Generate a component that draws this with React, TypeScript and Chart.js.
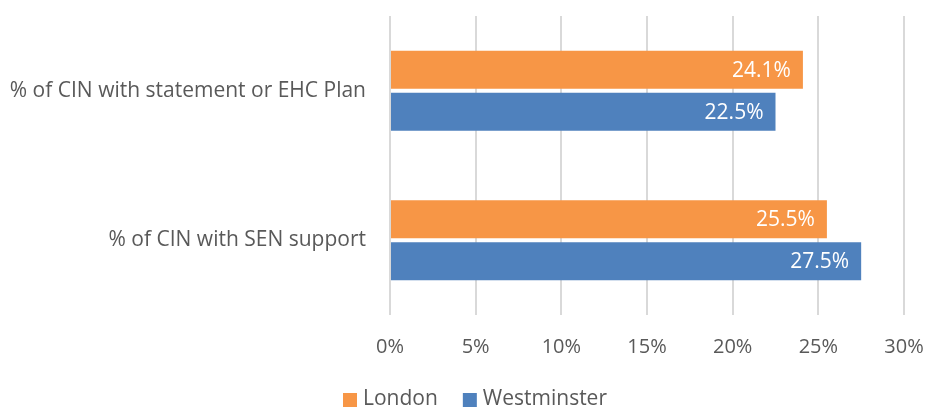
import React, { useEffect, useRef } from "react";
import { Chart, registerables } from "chart.js";

Chart.register(...registerables);

const categories = ["% of CIN with statement or EHC Plan", "% of CIN with SEN support"];
const londonValues = [24.1, 25.5];
const westminsterValues = [22.5, 27.5];
const seriesNames = ["London", "Westminster"];
const seriesColors = ["#F79646", "#4F81BD"];

const FONT = "'Open Sans', sans-serif";
const TEXT_COLOR = "#595959";

const labelPlugin = {
  id: "barLabels",
  afterDatasetsDraw(chart: any) {
    const ctx = chart.ctx;
    ctx.save();
    ctx.font = `21px ${FONT}`;
    ctx.fillStyle = "#FFFFFF";
    ctx.textAlign = "right";
    ctx.textBaseline = "middle";
    chart.data.datasets.forEach((ds: any, i: number) => {
      const meta = chart.getDatasetMeta(i);
      meta.data.forEach((bar: any, j: number) => {
        ctx.fillText(ds.data[j].toFixed(1) + "%", bar.x - 12, bar.y + 1);
      });
    });
    ctx.restore();
  },
};

const legendPlugin = {
  id: "customLegend",
  afterDraw(chart: any) {
    const ctx = chart.ctx;
    ctx.save();
    ctx.font = `21px ${FONT}`;
    ctx.textBaseline = "middle";
    ctx.textAlign = "left";
    const box = 14;
    const boxGap = 6;
    const itemGap = 25;
    const items = chart.data.datasets.map((ds: any) => ({
      label: ds.label,
      color: ds.backgroundColor,
      w: ctx.measureText(ds.label).width,
    }));
    const total = items.reduce((s: number, it: any) => s + box + boxGap + it.w, 0) + itemGap * (items.length - 1);
    let x = chart.width / 2 + 11 - total / 2;
    const y = 399;
    items.forEach((it: any) => {
      ctx.fillStyle = it.color;
      ctx.fillRect(x, y - box / 2 + 1, box, box);
      x += box + boxGap;
      ctx.fillStyle = TEXT_COLOR;
      ctx.fillText(it.label, x, y);
      x += it.w + itemGap;
    });
    ctx.restore();
  },
};

export default function App() {
  const ref = useRef<HTMLCanvasElement>(null);
  useEffect(() => {
    document.body.style.margin = "0";
    const chart = new Chart(ref.current!, {
      type: "bar",
      data: {
        labels: categories,
        datasets: [
          { label: seriesNames[0], data: londonValues, backgroundColor: seriesColors[0] },
          { label: seriesNames[1], data: westminsterValues, backgroundColor: seriesColors[1] },
        ],
      },
      options: {
        indexAxis: "y",
        animation: false,
        responsive: false,
        categoryPercentage: 0.562,
        barPercentage: 0.905,
        layout: { padding: { left: 0, right: 24, top: 16, bottom: 0 } },
        scales: {
          x: {
            min: 0,
            max: 30,
            ticks: {
              stepSize: 5,
              color: TEXT_COLOR,
              font: { family: FONT, size: 20 },
              padding: 20,
              callback: (v: any) => v + "%",
            },
            grid: { color: "#D9D9D9", lineWidth: 2, drawTicks: false },
            border: { display: false },
            afterFit: (scale: any) => {
              scale.height = 95;
              scale.paddingLeft = 0;
              scale.paddingRight = 0;
            },
          },
          y: {
            ticks: { color: TEXT_COLOR, font: { family: FONT, size: 21 }, padding: 24 },
            grid: { display: false, drawTicks: false },
            border: { display: false },
            afterFit: (scale: any) => {
              scale.width = 390;
              scale.paddingTop = 0;
              scale.paddingBottom = 0;
            },
          },
        },
        plugins: {
          legend: { display: false },
          tooltip: { enabled: false },
        },
      },
      plugins: [labelPlugin, legendPlugin],
    });
    return () => chart.destroy();
  }, []);
  return <canvas ref={ref} width={928} height={410} />;
}
